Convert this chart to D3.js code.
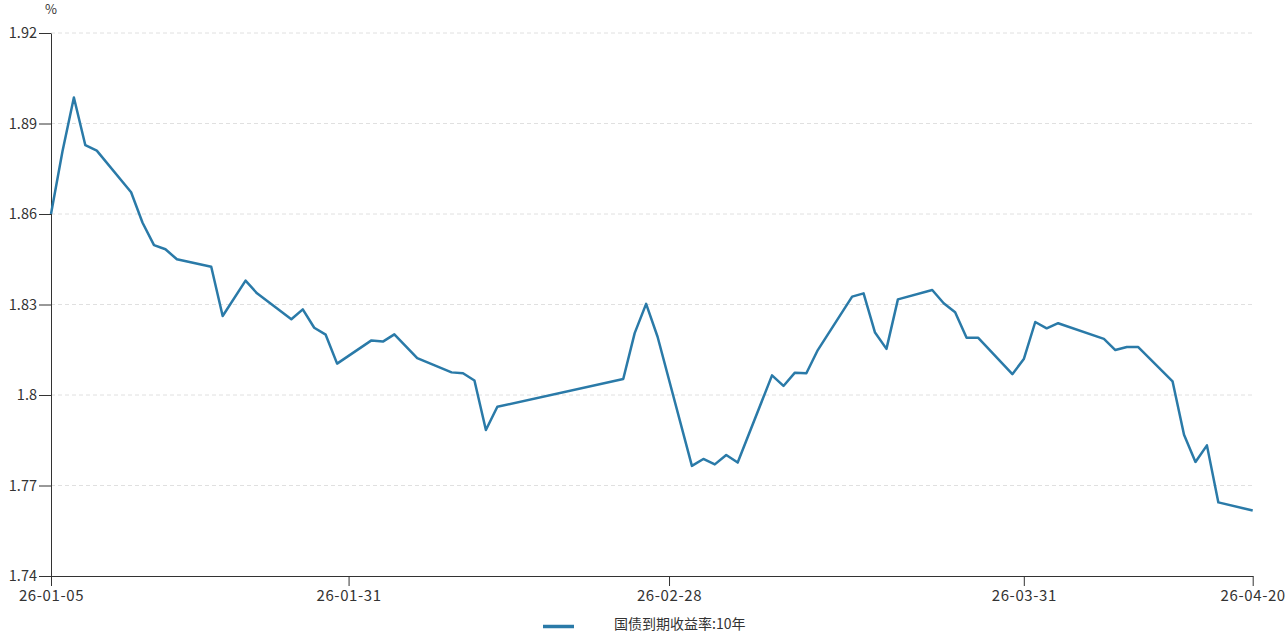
<!DOCTYPE html>
<html>
<head>
<meta charset="utf-8">
<script src="https://cdn.jsdelivr.net/npm/d3@7"></script>
<style>
  body { margin: 0; background: #fff; }
  svg text { font-family: "Noto Sans CJK SC", "Noto Sans", sans-serif; fill: #333; }
</style>
</head>
<body>
<div class="canvas"></div>
<script>
// Data
const dates = [
    '2026-01-05','2026-01-06','2026-01-07','2026-01-08','2026-01-09',
    '2026-01-12','2026-01-13','2026-01-14','2026-01-15','2026-01-16',
    '2026-01-19','2026-01-20','2026-01-22','2026-01-23',
    '2026-01-26','2026-01-27','2026-01-28','2026-01-29','2026-01-30',
    '2026-02-02','2026-02-03','2026-02-04','2026-02-06',
    '2026-02-09','2026-02-10','2026-02-11','2026-02-12','2026-02-13',
    '2026-02-24','2026-02-25','2026-02-26','2026-02-27',
    '2026-03-02','2026-03-03','2026-03-04','2026-03-05','2026-03-06',
    '2026-03-09','2026-03-10','2026-03-11','2026-03-12','2026-03-13',
    '2026-03-16','2026-03-17','2026-03-18','2026-03-19','2026-03-20',
    '2026-03-23','2026-03-24','2026-03-25','2026-03-26','2026-03-27',
    '2026-03-30','2026-03-31','2026-04-01','2026-04-02','2026-04-03',
    '2026-04-07','2026-04-08','2026-04-09','2026-04-10',
    '2026-04-13','2026-04-14','2026-04-15','2026-04-16','2026-04-17',
    '2026-04-20'
];
const yields = [
    1.8600, 1.8807, 1.8986, 1.8828, 1.8810,
    1.8672, 1.8571, 1.8497, 1.8483, 1.8450,
    1.8425, 1.8262, 1.8379, 1.8337,
    1.8251, 1.8284, 1.8223, 1.8200, 1.8104,
    1.8181, 1.8177, 1.8201, 1.8122,
    1.8075, 1.8072, 1.8048, 1.7884, 1.7961,
    1.8053, 1.8205, 1.8302, 1.8193,
    1.7765, 1.7788, 1.7770, 1.7801, 1.7776,
    1.8065, 1.8030, 1.8074, 1.8072, 1.8149,
    1.8326, 1.8337, 1.8207, 1.8153, 1.8317,
    1.8348, 1.8304, 1.8274, 1.8190, 1.8190,
    1.8069, 1.8119, 1.8242, 1.8221, 1.8238,
    1.8186, 1.8149, 1.8159, 1.8159,
    1.8045, 1.7868, 1.7778, 1.7833, 1.7644,
    1.7617
];
const yTicks = [1.74, 1.77, 1.8, 1.83, 1.86, 1.89, 1.92];
const xTickDates = ['2026-01-05', '2026-01-31', '2026-02-28', '2026-03-31', '2026-04-20'];
const seriesName = '国债到期收益率:10年';
const unit = '%';

// Dimensions
const dims = { width: 1287, height: 633 };
const margin = { top: 33, right: 34.3, bottom: 57, left: 51 };
const innerW = dims.width - margin.left - margin.right;
const innerH = dims.height - margin.top - margin.bottom;
const color = '#2a7aa8';

const parse = d3.timeParse('%Y-%m-%d');
const data = dates.map((d, i) => ({ date: parse(d), value: yields[i] }));

const svg = d3.select('.canvas')
    .append('svg')
    .attr('width', dims.width)
    .attr('height', dims.height);

const graph = svg.append('g')
    .attr('transform', `translate(${margin.left}, ${margin.top})`);

// Scales
const x = d3.scaleTime()
    .domain([parse(xTickDates[0]), parse(xTickDates[xTickDates.length - 1])])
    .range([0, innerW]);

const y = d3.scaleLinear()
    .domain([yTicks[0], yTicks[yTicks.length - 1]])
    .range([innerH, 0]);

// Grid lines
graph.append('g')
    .selectAll('line')
    .data(yTicks.slice(1))
    .enter()
    .append('line')
        .attr('x1', 0)
        .attr('x2', innerW)
        .attr('y1', d => y(d))
        .attr('y2', d => y(d))
        .attr('stroke', '#e0e0e0')
        .attr('stroke-width', 1)
        .attr('stroke-dasharray', '4,3');

// Axes
const xAxis = d3.axisBottom(x)
    .tickValues(xTickDates.map(parse))
    .tickFormat(d3.timeFormat('%y-%m-%d'))
    .tickSize(10)
    .tickSizeOuter(0)
    .tickPadding(4);

const yAxis = d3.axisLeft(y)
    .tickValues(yTicks)
    .tickFormat(d => String(d))
    .tickSize(12)
    .tickSizeOuter(0)
    .tickPadding(2);

const gx = graph.append('g')
    .attr('transform', `translate(0, ${innerH})`)
    .call(xAxis);

const gy = graph.append('g').call(yAxis);

[gx, gy].forEach(g => {
    g.select('.domain').attr('stroke', '#333');
    g.selectAll('.tick line').attr('stroke', '#333');
    g.selectAll('.tick text')
        .attr('fill', '#333')
        .style('font-family', '"Noto Sans CJK SC", "Noto Sans", sans-serif');
});
gy.selectAll('.tick text').style('font-size', '14.5px');
gx.selectAll('.tick text')
    .style('font-size', '15px')
    .style('letter-spacing', '0.6px');

// Unit label
svg.append('text')
    .attr('x', margin.left)
    .attr('y', 14)
    .attr('text-anchor', 'middle')
    .style('font-size', '13px')
    .text(unit);

// Line
const line = d3.line()
    .x(d => x(d.date))
    .y(d => y(d.value));

graph.append('path')
    .datum(data)
    .attr('d', line)
    .attr('fill', 'none')
    .attr('stroke', color)
    .attr('stroke-width', 2.5)
    .attr('stroke-linejoin', 'round');

// Legend
const legend = svg.append('g')
    .attr('transform', 'translate(543, 624)');

legend.append('line')
    .attr('x1', 0)
    .attr('x2', 31)
    .attr('y1', 2.5)
    .attr('y2', 2.5)
    .attr('stroke', color)
    .attr('stroke-width', 3.5);

legend.append('text')
    .attr('x', 71)
    .attr('y', 5)
    .style('font-size', '14px')
    .text(seriesName);
</script>
</body>
</html>
